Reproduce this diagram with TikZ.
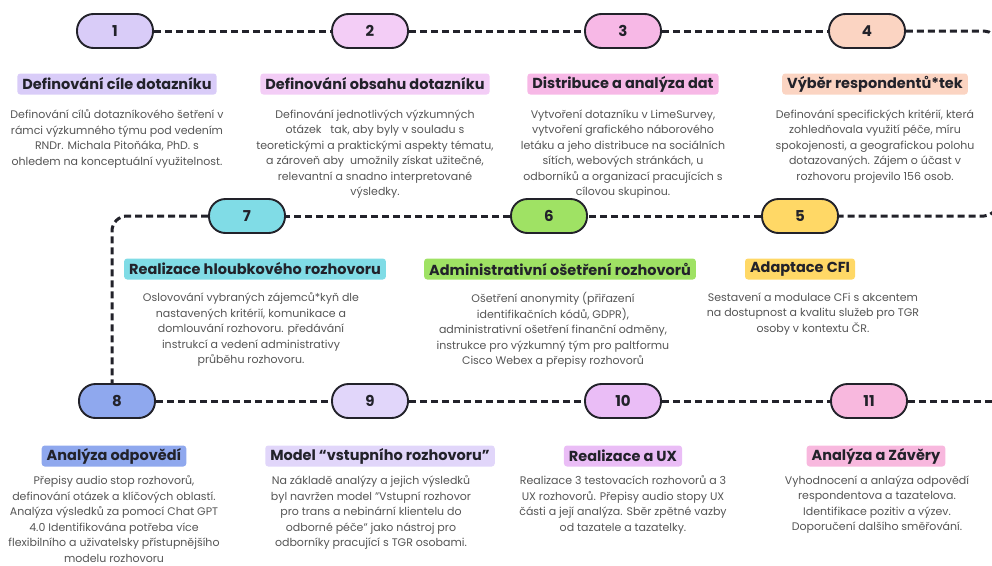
\documentclass[tikz,border=0pt]{standalone}
\usepackage{fontspec}
\setmainfont{Poppins}
\usetikzlibrary{positioning}

\definecolor{ink}{HTML}{22222A}
\definecolor{grey}{HTML}{555555}
\definecolor{c1}{HTML}{D9CCF8}
\definecolor{c2}{HTML}{F3CDF6}
\definecolor{c3}{HTML}{F7B8E6}
\definecolor{c4}{HTML}{FBD4C2}
\definecolor{c5}{HTML}{FFD866}
\definecolor{c6}{HTML}{9FE264}
\definecolor{c7}{HTML}{80DCE6}
\definecolor{c8}{HTML}{8FA8EE}
\definecolor{c9}{HTML}{E1D6FA}
\definecolor{c10}{HTML}{EABDF6}
\definecolor{c11}{HTML}{F8B8DE}

\begin{document}
\begin{tikzpicture}[x=1pt,y=-1pt,
    pill/.style={draw=ink, line width=1.9pt, rounded corners=16.5pt, minimum width=76pt,
      minimum height=34pt, inner sep=0pt, text=ink, font=\bfseries\fontsize{15}{15}\selectfont},
    heading/.style={rounded corners=3pt, inner xsep=5pt, inner ysep=0pt, minimum height=21pt,
      text=ink, font=\bfseries\fontsize{14.5}{15}\selectfont},
    desc/.style={anchor=north, align=center, inner sep=0pt, text=grey,
      font=\fontsize{11}{15.5}\selectfont},
    trail/.style={draw=ink, line width=3pt, dash pattern=on 7pt off 4pt}
  ]
    \clip (0,0) rectangle (992,565);

    \node[pill, fill=c1] (n1) at (115,31) {1};
    \node[pill, fill=c2] (n2) at (370,31) {2};
    \node[pill, fill=c3] (n3) at (623,31) {3};
    \node[pill, fill=c4] (n4) at (867,31) {4};
    \node[pill, fill=c5] (n5) at (800,216) {5};
    \node[pill, fill=c6] (n6) at (549,216) {6};
    \node[pill, fill=c7] (n7) at (247,216) {7};
    \node[pill, fill=c8] (n8) at (117,401) {8};
    \node[pill, fill=c9] (n9) at (370,401) {9};
    \node[pill, fill=c10] (n10) at (623,401) {10};
    \node[pill, fill=c11] (n11) at (869,401) {11};

    \coordinate (r1) at (997,31);
    \coordinate (r2) at (997,216);
    \coordinate (l1) at (112,216);
    \coordinate (r3) at (997,401);

    \draw[trail] (n1) -- (n2) -- (n3) -- (n4);
    \draw[trail, rounded corners=13pt] (n4.east) -- (r1) -- (r2) -- (n5.east);
    \draw[trail] (n5) -- (n6) -- (n7);
    \draw[trail, rounded corners=15pt] (n7.west) -- (l1) -- (l1 |- n8.north);
    \draw[trail] (n8) -- (n9) -- (n10) -- (n11) -- (r3);

    \node[heading, fill=c1] (t1) at (117,84) {Definování cíle dotazníku};
    \node[heading, fill=c2] (t2) at (375,84) {Definování obsahu dotazníku};
    \node[heading, fill=c3] (t3) at (623,84) {Distribuce a analýza dat};
    \node[heading, fill=c4] (t4) at (875,84) {Výběr respondentů*tek};
    \node[heading, fill=c5] (t5) at (800,269) {Adaptace CFI};
    \node[heading, fill=c6] (t6) at (560,269) {Administrativní ošetření rozhovorů};
    \node[heading, fill=c7] (t7) at (255,269) {Realizace hloubkového rozhovoru};
    \node[heading, fill=c8] (t8) at (114,456) {Analýza odpovědí};
    \node[heading, fill=c9] (t9) at (380,456) {Model “vstupního rozhovoru"};
    \node[heading, fill=c10] (t10) at (623,456) {Realizace a UX};
    \node[heading, fill=c11] (t11) at (876,456) {Analýza a Závěry};

    \node[desc] (d1) at (117,109.5) {Definování cílů dotazníkového šetření v\\rámci výzkumného týmu pod vedením\\RNDr. Michala Pitoňáka, PhD. s\\ohledem na konceptuální využitelnost.};
    \node[desc] (d2) at (375,109.5) {Definování jednotlivých výzkumných\\otázek \ \ tak, aby byly v souladu s\\teoretickými a praktickými aspekty tématu,\\a zároveň aby \ umožnily získat užitečné,\\relevantní a snadno interpretované\\výsledky.};
    \node[desc] (d3) at (623,109.5) {Vytvoření dotazníku v LimeSurvey,\\vytvoření grafického náborového\\letáku a jeho distribuce na sociálních\\sítích, webových stránkách, u\\odborníků a organizací pracujících s\\cílovou skupinou.};
    \node[desc] (d4) at (875,109.5) {Definování specifických kritérií, která\\zohledňovala využití péče, míru\\spokojenosti, a geografickou polohu\\dotazovaných. Zájem o účast v\\rozhovoru projevilo 156 osob.};
    \node[desc] (d5) at (813,292.5) {Sestavení a modulace CFi s akcentem\\na dostupnost a kvalitu služeb pro TGR\\osoby v kontextu ČR.};
    \node[desc] (d6) at (553,292.5) {Ošetření anonymity (přiřazení\\identifikačních kódů, GDPR),\\administrativní ošetření finanční odměny,\\instrukce pro výzkumný tým pro paltformu\\Cisco Webex a přepisy rozhovorů};
    \node[desc] (d7) at (251,292.5) {Oslovování vybraných zájemců*kyň dle\\nastavených kritérií, komunikace a\\domlouvání rozhovoru. předávání\\instrukcí a vedení administrativy\\průběhu rozhovoru.};
    \node[desc] (d8) at (114,475.5) {Přepisy audio stop rozhovorů,\\definování otázek a klíčových oblastí.\\Analýza výsledků za pomocí Chat GPT\\4.0 Identifikována potřeba více\\flexibilního a uživatelsky přístupnějšího\\modelu rozhovoru};
    \node[desc] (d9) at (371,475.5) {Na základě analýzy a jejich výsledků\\byl navržen model "Vstupní rozhovor\\pro trans a nebinární klientelu do\\odborné péče" jako nástroj pro\\odborníky pracující s TGR osobami.};
    \node[desc] (d10) at (623,475.5) {Realizace 3 testovacích rozhovorů a 3\\UX rozhovorů. Přepisy audio stopy UX\\části a její analýza. Sběr zpětné vazby\\od tazatele a tazatelky.};
    \node[desc] (d11) at (877,475.5) {Vyhodnocení a anlaýza odpovědí\\respondentova a tazatelova.\\Identifikace pozitiv a výzev.\\Doporučení dalšího směřování.};
\end{tikzpicture}
\end{document}
